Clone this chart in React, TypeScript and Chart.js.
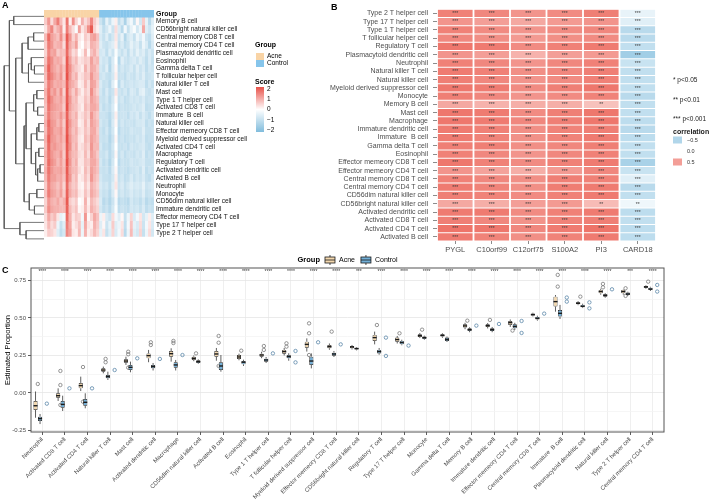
import React, { useEffect, useRef } from 'react';
import { Chart, registerables } from 'chart.js';

Chart.register(...registerables);

const FONT = "'Liberation Sans', Arial, Helvetica, sans-serif";

// ---------------- Panel A: immune score heatmap ----------------
const heatRowNames = [
  'Memory B cell', 'CD56bright natural killer cell', 'Central memory CD8 T cell', 'Central memory CD4 T cell',
  'Plasmacytoid dendritic cell', 'Eosinophil', 'Gamma delta T cell', 'T follicular helper cell',
  'Natural killer T cell', 'Mast cell', 'Type 1 T helper cell', 'Activated CD8 T cell',
  'Immature  B cell', 'Natural killer cell', 'Effector memeory CD8 T cell', 'Myeloid derived suppressor cell',
  'Activated CD4 T cell', 'Macrophage', 'Regulatory T cell', 'Activated dendritic cell',
  'Activated B cell', 'Neutrophil', 'Monocyte', 'CD56dim natural killer cell',
  'Immature dendritic cell', 'Effector memeory CD4 T cell', 'Type 17 T helper cell', 'Type 2 T helper cell',
];
const acneSampleCount = 18;
const controlSampleCount = 18;

// z-scores per sample (18 acne followed by 18 control)
const zMemoryB = [0.6, 1.2, 0.4, 1.0, 1.5, 0.8, 0.3, 1.6, 0.2, 1.3, 0.5, 0.1, 0.9, 0.4, 0.7, 1.4, 0.6, 0.3, -0.8, -1.2, -0.4, -0.9, -0.3, 0.2, -1.0, -0.6, -1.3, -0.5, -0.2, -0.9, 0.1, -0.7, 0.6, -0.4, -1.1, -0.5];
const zCD56bright = [0.3, 1.0, 1.4, 0.6, 0.9, 1.2, 0.2, 1.5, 0.8, 0.4, -0.1, 1.1, 0.3, 0.6, 1.3, 1.9, 0.5, 0.2, -0.5, -1.0, -0.7, -0.3, -0.8, 0.4, -0.6, -1.1, -0.2, -0.9, -0.4, -0.1, -0.7, -0.3, 1.0, -0.5, -0.8, -0.4];
const zCMCD8 = [0.8, 1.7, 1.1, 0.9, 0.7, 1.3, 0.6, 1.9, 1.2, 0.5, 0.9, 0.3, 0.1, 0.6, 0.4, 1.0, 1.1, 0.7, -0.6, -0.9, -0.5, -1.0, -0.7, 0.3, -0.8, -0.4, -1.2, -0.7, -0.5, -0.9, -0.3, -0.6, -0.2, -0.8, -1.0, -0.5];
const zCMCD4 = [0.6, 1.5, 1.2, 0.8, 0.9, 1.0, 0.4, 1.8, 1.0, 0.7, 1.1, 0.2, 0.0, 0.5, 0.3, 0.9, 0.8, 0.6, -0.5, -0.8, -0.9, -0.7, -0.5, 0.2, -0.9, -0.6, -1.0, -0.8, -0.4, -0.7, -0.5, -0.9, -0.3, -0.6, -1.1, -0.6];
const zPDC = [0.5, 1.4, 1.0, 1.1, 0.6, 0.8, 0.7, 1.7, 0.9, 0.4, 0.6, 0.0, 0.2, 0.8, 0.1, 0.7, 0.9, 0.5, -0.7, -0.6, -1.0, -0.5, -0.8, -0.1, -0.7, -0.9, -0.6, -1.0, -0.5, -0.8, -0.4, -0.7, -0.5, -0.9, -0.6, -0.8];
const zEosinophil = [0.7, 1.6, 1.3, 0.9, 1.0, 0.9, 0.5, 1.9, 1.1, 0.6, 0.8, 0.3, 0.4, 0.6, 0.5, 1.1, 0.7, 0.8, -0.6, -0.8, -0.7, -1.1, -0.6, 0.0, -1.2, -0.5, -0.8, -0.9, -0.7, -0.6, -0.8, -0.5, -0.7, -1.0, -0.6, -0.9];
const zGammaDelta = [0.9, 1.8, 1.2, 1.0, 0.8, 1.1, 0.7, 1.9, 1.3, 0.8, 0.6, 0.4, 0.2, 0.9, 0.5, 1.0, 0.9, 0.6, -0.7, -0.9, -0.5, -1.2, -0.6, 0.1, -1.0, -0.7, -0.9, -0.8, -0.6, -0.9, -0.5, -0.8, -0.6, -1.0, -0.7, -0.8];
const zTfh = [0.8, 1.7, 1.4, 1.1, 0.9, 1.2, 0.6, 2.0, 1.2, 0.7, 0.9, 0.3, 0.4, 0.7, 0.6, 1.2, 0.8, 0.7, -0.8, -0.7, -0.9, -1.0, -0.7, 0.2, -0.9, -0.8, -1.0, -0.7, -0.8, -0.9, -0.6, -0.8, -0.5, -0.9, -0.8, -0.7];
const zNKT = [0.7, 1.5, 1.2, 0.9, 1.0, 1.0, 0.8, 1.8, 1.1, 0.9, 0.7, 0.2, 0.3, 0.8, 0.4, 1.1, 1.0, 0.6, -0.6, -0.9, -0.8, -1.1, -0.5, 0.0, -1.1, -0.6, -0.9, -0.8, -0.7, -0.8, -0.7, -0.6, -0.6, -1.0, -0.7, -0.9];
const zMast = [0.9, 1.6, 1.0, 1.2, 0.8, 1.3, 0.5, 1.9, 1.0, 0.6, 1.0, 0.5, 0.2, 0.6, 0.4, 1.3, 0.8, 0.5, -0.7, -1.0, -0.6, -1.0, -0.8, 0.3, -0.8, -0.9, -0.7, -1.0, -0.6, -0.7, -0.9, -0.5, -0.4, -0.8, -0.9, -0.7];
const zTh1 = [0.8, 1.7, 1.3, 1.0, 0.9, 1.1, 0.7, 1.9, 1.2, 0.7, 0.8, 0.3, 0.3, 0.7, 0.5, 1.1, 0.9, 0.7, -0.8, -0.9, -0.7, -1.1, -0.7, 0.1, -0.9, -0.7, -1.0, -0.9, -0.7, -0.8, -0.7, -0.8, -0.6, -0.9, -0.8, -0.8];
const zActCD8 = [0.7, 1.6, 1.2, 1.1, 1.0, 1.0, 0.6, 2.0, 1.1, 0.8, 0.7, 0.4, 0.2, 0.8, 0.6, 1.0, 1.0, 0.8, -0.7, -1.0, -0.8, -1.0, -0.6, 0.0, -1.0, -0.8, -0.9, -0.9, -0.8, -0.7, -0.8, -0.7, -0.5, -1.0, -0.9, -0.8];
const zImmatureB = [0.8, 1.5, 1.1, 1.0, 0.9, 1.2, 0.8, 1.8, 1.0, 0.7, 0.9, 0.3, 0.4, 0.7, 0.5, 1.2, 0.8, 0.6, -0.8, -0.8, -0.9, -1.1, -0.7, 0.2, -0.9, -0.8, -0.8, -1.0, -0.7, -0.8, -0.6, -0.9, -0.6, -0.8, -1.0, -0.7];
const zNK = [0.9, 1.7, 1.2, 1.1, 0.8, 1.1, 0.6, 1.9, 1.2, 0.8, 0.8, 0.2, 0.3, 0.8, 0.4, 1.1, 0.9, 0.7, -0.7, -0.9, -0.8, -1.2, -0.6, 0.1, -1.0, -0.7, -0.9, -0.8, -0.8, -0.9, -0.7, -0.7, -0.6, -1.0, -0.8, -0.9];
const zEMCD8 = [0.8, 1.6, 1.3, 1.0, 1.0, 1.2, 0.7, 1.9, 1.1, 0.7, 0.9, 0.4, 0.3, 0.7, 0.5, 1.0, 1.0, 0.6, -0.8, -1.0, -0.7, -1.1, -0.7, 0.0, -1.1, -0.8, -0.9, -0.9, -0.7, -0.8, -0.8, -0.8, -0.5, -0.9, -0.9, -0.8];
const zMDSC = [0.9, 1.8, 1.2, 1.1, 0.9, 1.1, 0.8, 2.0, 1.2, 0.8, 0.8, 0.3, 0.2, 0.8, 0.6, 1.1, 0.9, 0.7, -0.8, -0.9, -0.8, -1.2, -0.8, 0.1, -1.0, -0.8, -1.0, -0.9, -0.8, -0.9, -0.7, -0.8, -0.6, -1.0, -0.9, -0.9];
const zActCD4 = [0.8, 1.7, 1.1, 1.2, 1.0, 1.0, 0.7, 1.9, 1.3, 0.7, 0.9, 0.3, 0.4, 0.7, 0.5, 1.2, 0.8, 0.8, -0.7, -1.0, -0.9, -1.1, -0.7, 0.0, -0.9, -0.9, -0.8, -1.0, -0.7, -0.8, -0.8, -0.7, -0.6, -0.9, -1.0, -0.8];
const zMacrophage = [0.9, 1.6, 1.2, 1.0, 0.9, 1.2, 0.6, 1.9, 1.1, 0.8, 0.8, 0.4, 0.3, 0.8, 0.4, 1.1, 0.9, 0.6, -0.8, -0.9, -0.7, -1.1, -0.8, 0.1, -1.0, -0.7, -1.0, -0.8, -0.8, -0.9, -0.7, -0.8, -0.5, -1.0, -0.8, -0.9];
const zTreg = [0.8, 1.7, 1.3, 1.1, 0.8, 1.1, 0.7, 2.0, 1.2, 0.7, 0.9, 0.3, 0.3, 0.7, 0.6, 1.0, 1.0, 0.7, -0.7, -1.0, -0.8, -1.2, -0.7, 0.0, -1.1, -0.8, -0.9, -0.9, -0.7, -0.8, -0.8, -0.7, -0.6, -0.9, -0.9, -0.8];
const zActDC = [0.9, 1.6, 1.2, 1.0, 1.0, 1.1, 0.8, 1.9, 1.1, 0.8, 0.8, 0.4, 0.2, 0.8, 0.5, 1.1, 0.9, 0.7, -0.8, -0.9, -0.8, -1.1, -0.6, 0.1, -1.0, -0.8, -0.9, -1.0, -0.8, -0.8, -0.7, -0.9, -0.5, -1.0, -0.8, -0.9];
const zActB = [0.8, 1.5, 1.1, 1.1, 0.9, 1.0, 0.7, 1.8, 1.2, 0.6, 0.8, 0.2, 0.3, 0.7, 0.4, 1.2, 0.8, 0.6, -0.7, -0.9, -0.9, -1.0, -0.7, 0.2, -0.9, -0.7, -1.0, -0.9, -0.6, -0.9, -0.7, -0.8, -0.6, -0.9, -1.0, -0.7];
const zNeutrophil = [0.6, 1.4, 1.0, 0.9, 0.7, 1.0, 0.5, 1.7, 0.9, 0.6, 0.7, 0.2, 0.1, 0.6, 0.3, 0.9, 0.7, 0.5, -0.6, -0.8, -0.7, -1.0, -0.5, 0.3, -0.8, -0.6, -0.9, -0.7, -0.5, -0.7, -0.6, -0.7, -0.4, -0.8, -0.7, -0.6];
const zMonocyte = [0.7, 1.5, 1.1, 1.0, 0.8, 1.1, 0.6, 1.8, 1.0, 0.7, 0.8, 0.3, 0.2, 0.7, 0.4, 1.0, 0.8, 0.6, -0.7, -0.9, -0.8, -1.1, -0.6, 0.1, -0.9, -0.7, -0.9, -0.8, -0.6, -0.8, -0.7, -0.8, -0.5, -0.9, -0.8, -0.7];
const zCD56dim = [0.5, 1.2, 0.9, 0.8, 1.0, 0.7, 0.9, 1.9, 0.6, 0.4, 0.6, 0.0, 0.1, 0.9, 0.2, 0.8, 0.6, 0.4, -0.6, -1.1, -0.9, -1.2, -0.8, -0.2, -1.1, -0.9, -1.0, -1.1, -0.7, -0.9, -0.8, -1.0, -0.7, -1.1, -0.9, -1.0];
const zImmatureDC = [0.6, 1.3, 1.0, 0.9, 0.9, 0.8, 0.8, 1.8, 0.8, 0.5, 0.7, 0.1, 0.2, 0.8, 0.3, 0.9, 0.7, 0.5, -0.7, -1.0, -0.8, -1.1, -0.7, -0.1, -1.0, -0.8, -0.9, -1.0, -0.7, -0.8, -0.7, -0.9, -0.6, -1.0, -0.8, -0.9];
const zEMCD4 = [0.4, 1.0, 0.6, 0.8, 0.3, -0.4, -0.2, 1.7, 0.9, 0.3, 0.6, 0.5, -0.2, 1.2, 0.1, 0.5, 1.0, 0.7, -0.3, 0.2, -0.6, -0.8, 0.4, -0.2, -0.5, 0.1, -0.9, -0.3, 0.5, -0.6, -0.2, 0.3, -0.7, -0.4, 0.2, -0.5];
const zTh17 = [0.3, 0.8, 0.4, 0.6, -0.3, -0.9, -0.5, 1.5, 1.0, 0.2, 0.4, 0.7, -0.4, 1.0, 0.3, 0.2, 0.9, 0.6, -0.5, 0.1, -0.8, -0.4, 0.6, -0.5, -0.3, 0.3, -1.0, -0.2, 0.7, -0.4, -0.6, 0.4, -0.8, -0.2, 0.3, -0.6];
const zTh2 = [0.2, 0.6, 0.5, 0.3, -0.5, -1.0, -0.7, 1.4, 1.1, 0.3, 0.2, 0.8, -0.3, 0.9, 0.2, 0.4, 0.8, 0.5, -0.4, 0.3, -0.9, -0.5, 0.5, -0.6, -0.2, 0.4, -1.1, -0.3, 0.8, -0.5, -0.7, 0.5, -0.9, -0.3, 0.4, -0.7];

const heatMatrix = [
  zMemoryB, zCD56bright, zCMCD8, zCMCD4, zPDC, zEosinophil, zGammaDelta, zTfh, zNKT, zMast,
  zTh1, zActCD8, zImmatureB, zNK, zEMCD8, zMDSC, zActCD4, zMacrophage, zTreg, zActDC,
  zActB, zNeutrophil, zMonocyte, zCD56dim, zImmatureDC, zEMCD4, zTh17, zTh2,
];

// row clustering: [left, right, height]; ids 0-27 are rows, id 100+k is merge k
const rowMerges: [number, number, number][] = [
  [2, 3, 2.6], [100, 4, 4.0], [6, 7, 2.4], [5, 102, 3.2], [103, 8, 3.9], [101, 104, 5.5],
  [9, 10, 1.8], [11, 12, 1.6], [106, 107, 2.6], [13, 14, 1.3], [109, 15, 1.8], [16, 17, 1.3],
  [18, 19, 1.0], [112, 20, 1.6], [111, 113, 2.1], [110, 114, 3.2], [108, 115, 4.5],
  [21, 22, 1.8], [23, 24, 2.4], [117, 118, 3.7], [116, 119, 5.0], [105, 120, 7.1],
  [0, 1, 7.6], [122, 121, 8.7], [26, 27, 4.5], [25, 124, 6.05], [123, 125, 10],
];

// ---------------- Panel B: correlation with marker genes ----------------
const corrRowNames = [
  'Type 2 T helper cell', 'Type 17 T helper cell', 'Type 1 T helper cell', 'T follicular helper cell',
  'Regulatory T cell', 'Plasmacytoid dendritic cell', 'Neutrophil', 'Natural killer T cell',
  'Natural killer cell', 'Myeloid derived suppressor cell', 'Monocyte', 'Memory B cell',
  'Mast cell', 'Macrophage', 'Immature dendritic cell', 'Immature  B cell',
  'Gamma delta T cell', 'Eosinophil', 'Effector memeory CD8 T cell', 'Effector memeory CD4 T cell',
  'Central memory CD8 T cell', 'Central memory CD4 T cell', 'CD56dim natural killer cell', 'CD56bright natural killer cell',
  'Activated dendritic cell', 'Activated CD8 T cell', 'Activated CD4 T cell', 'Activated B cell',
];
const corrGenes = ['PYGL', 'C10orf99', 'C12orf75', 'S100A2', 'PI3', 'CARD18'];

const corrPYGL = [0.65, 0.55, 0.65, 0.62, 0.70, 0.55, 0.65, 0.68, 0.66, 0.70, 0.66, 0.45, 0.70, 0.70, 0.68, 0.68, 0.66, 0.65, 0.70, 0.55, 0.65, 0.68, 0.66, 0.45, 0.68, 0.66, 0.72, 0.68];
const corrC10orf99 = [0.62, 0.50, 0.60, 0.58, 0.68, 0.50, 0.62, 0.65, 0.62, 0.68, 0.62, 0.40, 0.68, 0.68, 0.65, 0.64, 0.66, 0.62, 0.65, 0.48, 0.62, 0.64, 0.64, 0.42, 0.68, 0.62, 0.70, 0.64];
const corrC12orf75 = [0.55, 0.45, 0.55, 0.52, 0.60, 0.40, 0.55, 0.58, 0.55, 0.60, 0.55, 0.42, 0.60, 0.62, 0.58, 0.57, 0.58, 0.55, 0.60, 0.42, 0.58, 0.58, 0.60, 0.50, 0.60, 0.56, 0.62, 0.58];
const corrS100A2 = [0.60, 0.52, 0.60, 0.58, 0.65, 0.50, 0.62, 0.62, 0.60, 0.66, 0.60, 0.42, 0.66, 0.66, 0.64, 0.64, 0.62, 0.62, 0.65, 0.52, 0.66, 0.67, 0.65, 0.52, 0.65, 0.64, 0.68, 0.64];
const corrPI3 = [0.66, 0.55, 0.62, 0.60, 0.68, 0.52, 0.65, 0.66, 0.65, 0.70, 0.64, 0.32, 0.70, 0.70, 0.66, 0.68, 0.66, 0.65, 0.68, 0.62, 0.65, 0.68, 0.68, 0.35, 0.68, 0.66, 0.72, 0.68];
const corrCARD18 = [-0.15, -0.20, -0.45, -0.45, -0.40, -0.60, -0.35, -0.40, -0.40, -0.40, -0.45, -0.40, -0.40, -0.42, -0.45, -0.42, -0.40, -0.40, -0.55, -0.35, -0.20, -0.45, -0.40, -0.10, -0.42, -0.40, -0.42, -0.42];

const S3 = '***';
const S2 = '**';
const sigPYGL = [S3, S3, S3, S3, S3, S3, S3, S3, S3, S3, S3, S3, S3, S3, S3, S3, S3, S3, S3, S3, S3, S3, S3, S3, S3, S3, S3, S3];
const sigC10orf99 = [S3, S3, S3, S3, S3, S3, S3, S3, S3, S3, S3, S3, S3, S3, S3, S3, S3, S3, S3, S3, S3, S3, S3, S3, S3, S3, S3, S3];
const sigC12orf75 = [S3, S3, S3, S3, S3, S3, S3, S3, S3, S3, S3, S3, S3, S3, S3, S3, S3, S3, S3, S3, S3, S3, S3, S3, S3, S3, S3, S3];
const sigS100A2 = [S3, S3, S3, S3, S3, S3, S3, S3, S3, S3, S3, S3, S3, S3, S3, S3, S3, S3, S3, S3, S3, S3, S3, S3, S3, S3, S3, S3];
const sigPI3 = [S3, S3, S3, S3, S3, S3, S3, S3, S3, S3, S3, S2, S3, S3, S3, S3, S3, S3, S3, S3, S3, S3, S3, S2, S3, S3, S3, S3];
const sigCARD18 = [S3, S3, S3, S3, S3, S3, S3, S3, S3, S3, S3, S3, S3, S3, S3, S3, S3, S3, S3, S3, S3, S3, S3, S2, S3, S3, S3, S3];

const corrByGene = [corrPYGL, corrC10orf99, corrC12orf75, corrS100A2, corrPI3, corrCARD18];
const sigByGene = [sigPYGL, sigC10orf99, sigC12orf75, sigS100A2, sigPI3, sigCARD18];

// ---------------- Panel C: estimated proportions by group ----------------
const cellTypes = [
  'Neutrophil', 'Activated CD8 T cell', 'Activated CD4 T cell', 'Natural killer T cell', 'Mast cell',
  'Activated dendritic cell', 'Macrophage', 'CD56dim natural killer cell', 'Activated B cell', 'Eosinophil',
  'Type 1 T helper cell', 'T follicular helper cell', 'Myeloid derived suppressor cell', 'Effector memeory CD8 T cell',
  'CD56bright natural killer cell', 'Regulatory T cell', 'Type 17 T helper cell', 'Monocyte', 'Gamma delta T cell',
  'Memory B cell', 'Immature dendritic cell', 'Effector memeory CD4 T cell', 'Central memory CD8 T cell',
  'Immature  B cell', 'Plasmacytoid dendritic cell', 'Natural killer cell', 'Type 2 T helper cell', 'Central memory CD4 T cell',
];

const acneLow = [-0.165, -0.053, 0.013, 0.131, 0.187, 0.205, 0.209, 0.212, 0.215, 0.218, 0.232, 0.25, 0.276, 0.288, 0.29, 0.324, 0.33, 0.366, 0.368, 0.425, 0.43, 0.44, 0.51, 0.542, 0.585, 0.655, 0.655, 0.695];
const acneQ1 = [-0.113, -0.031, 0.031, 0.142, 0.202, 0.231, 0.242, 0.22, 0.242, 0.227, 0.242, 0.262, 0.302, 0.298, 0.298, 0.347, 0.342, 0.373, 0.376, 0.436, 0.44, 0.453, 0.516, 0.576, 0.591, 0.664, 0.664, 0.702];
const acneMedian = [-0.085, -0.018, 0.049, 0.153, 0.213, 0.249, 0.262, 0.231, 0.26, 0.24, 0.253, 0.276, 0.324, 0.309, 0.307, 0.369, 0.356, 0.382, 0.384, 0.447, 0.449, 0.469, 0.522, 0.609, 0.598, 0.676, 0.676, 0.707];
const acneQ3 = [-0.053, -0.002, 0.067, 0.165, 0.225, 0.264, 0.28, 0.242, 0.28, 0.253, 0.262, 0.287, 0.342, 0.32, 0.313, 0.387, 0.369, 0.391, 0.391, 0.458, 0.458, 0.48, 0.529, 0.642, 0.604, 0.687, 0.687, 0.713];
const acneHigh = [0.01, 0.031, 0.109, 0.176, 0.242, 0.287, 0.298, 0.25, 0.3, 0.262, 0.275, 0.3, 0.364, 0.33, 0.32, 0.409, 0.38, 0.4, 0.398, 0.468, 0.466, 0.49, 0.535, 0.653, 0.612, 0.695, 0.69, 0.718];
const acneOutliers = [
  [0.06], [0.147, 0.053, -0.08], [0.173, -0.058], [0.227, 0.205], [0.275, 0.258, 0.169],
  [0.338, 0.32], [0.347, 0.333], [0.264], [0.38, 0.335, 0.18], [0.282],
  [0.313, 0.287], [0.331, 0.309], [0.464, 0.398, 0.253], [0.409], [],
  [0.453], [0.398], [0.422], [], [0.482],
  [0.487], [0.416], [], [0.787, 0.709], [0.642],
  [0.727, 0.704], [0.647, 0.698], [0.742],
];

const controlLow = [-0.207, -0.12, -0.102, 0.087, 0.138, 0.15, 0.15, 0.195, 0.142, 0.18, 0.2, 0.215, 0.164, 0.24, 0.284, 0.255, 0.318, 0.355, 0.34, 0.405, 0.405, 0.42, 0.482, 0.493, 0.566, 0.635, 0.647, 0.68];
const controlQ1 = [-0.187, -0.098, -0.085, 0.098, 0.153, 0.165, 0.169, 0.2, 0.153, 0.191, 0.209, 0.231, 0.187, 0.249, 0.289, 0.264, 0.324, 0.36, 0.347, 0.413, 0.413, 0.431, 0.489, 0.509, 0.571, 0.642, 0.653, 0.687];
const controlMedian = [-0.171, -0.076, -0.062, 0.109, 0.171, 0.176, 0.187, 0.209, 0.18, 0.205, 0.22, 0.242, 0.213, 0.26, 0.296, 0.276, 0.336, 0.369, 0.358, 0.422, 0.422, 0.444, 0.498, 0.531, 0.578, 0.651, 0.66, 0.693];
const controlQ3 = [-0.158, -0.053, -0.04, 0.12, 0.187, 0.187, 0.205, 0.218, 0.205, 0.213, 0.229, 0.253, 0.242, 0.269, 0.302, 0.287, 0.347, 0.376, 0.369, 0.431, 0.431, 0.458, 0.507, 0.553, 0.587, 0.658, 0.669, 0.702];
const controlHigh = [-0.14, -0.018, -0.002, 0.142, 0.209, 0.2, 0.22, 0.224, 0.253, 0.222, 0.24, 0.265, 0.264, 0.28, 0.306, 0.3, 0.355, 0.382, 0.376, 0.438, 0.44, 0.468, 0.515, 0.587, 0.595, 0.665, 0.675, 0.708];
const controlOutliers = [
  [-0.071], [0.031], [0.031], [0.153], [0.231],
  [0.227], [0.253], [], [], [],
  [0.264], [0.28, 0.204], [0.338], [0.324], [],
  [0.369, 0.247], [0.316], [], [], [0.449],
  [0.46], [0.48, 0.4], [0.529], [0.636, 0.609], [0.604, 0.564],
  [0.691], [], [0.72, 0.676],
];

const groupTests = [
  '****', '****', '****', '****', '****', '****', '****', '****', '****', '****',
  '****', '****', '****', '****', '***', '****', '****', '****', '****', '****',
  '****', '****', '****', '****', '****', '****', '***', '****',
];

// ---------------- colours ----------------
const ACNE_ANNOT = '#F9D4A6';
const CONTROL_ANNOT = '#86C5EB';
const ACNE_BOX = '#F3D8AE';
const CONTROL_BOX = '#72AFD7';
const WHITE = [255, 255, 255];
const SCORE_HIGH = [232, 82, 74];
const SCORE_LOW = [128, 188, 220];
const CORR_POS = [236, 100, 88];
const CORR_NEG = [130, 190, 222];

function mix(a: number[], b: number[], t: number) {
  const k = Math.max(0, Math.min(1, t));
  const c = a.map((v, i) => Math.round(v + (b[i] - v) * k));
  return `rgb(${c[0]},${c[1]},${c[2]})`;
}
const scoreColor = (v: number) => (v >= 0 ? mix(WHITE, SCORE_HIGH, v / 2) : mix(WHITE, SCORE_LOW, -v / 2));
const corrColor = (v: number) => (v >= 0 ? mix(WHITE, CORR_POS, v / 0.8) : mix(WHITE, CORR_NEG, -v / 0.8));

function dendrogramSegments() {
  const nodes: Record<number, { y: number; h: number }> = {};
  heatRowNames.forEach((_, i) => { nodes[i] = { y: i + 1, h: 0 }; });
  const segs: { x: number; y: number }[][] = [];
  rowMerges.forEach(([a, b, h], k) => {
    const A = nodes[a];
    const B = nodes[b];
    segs.push([{ x: A.h, y: A.y }, { x: h, y: A.y }, { x: h, y: B.y }, { x: B.h, y: B.y }]);
    nodes[100 + k] = { y: (A.y + B.y) / 2, h };
  });
  return segs;
}

const noPlugins = { legend: { display: false }, tooltip: { enabled: false } };

function makeDendrogram(canvas: HTMLCanvasElement) {
  return new Chart(canvas, {
    type: 'scatter',
    data: {
      datasets: dendrogramSegments().map((pts) => ({
        data: pts, showLine: true, pointRadius: 0, borderColor: '#555555', borderWidth: 0.8,
        tension: 0, fill: false, borderJoinStyle: 'miter', borderCapStyle: 'butt',
      })),
    } as any,
    options: {
      animation: false, responsive: false, events: [], layout: { padding: 0 },
      plugins: noPlugins as any,
      scales: {
        x: { type: 'linear', min: 0, max: 10.3, reverse: true, display: false },
        y: { type: 'linear', min: -0.5, max: 28.5, reverse: true, display: false },
      },
    },
  });
}

const heatLegendPlugin = {
  id: 'heatLegend',
  afterDraw(chart: any) {
    const { ctx, chartArea } = chart;
    const x = chartArea.right + 101;
    ctx.save();
    ctx.textBaseline = 'middle';
    ctx.textAlign = 'left';
    ctx.fillStyle = '#000';
    ctx.font = `bold 7px ${FONT}`;
    ctx.fillText('Group', x, 41);
    ctx.fillStyle = ACNE_ANNOT;
    ctx.fillRect(x + 1, 49, 8, 7);
    ctx.fillStyle = CONTROL_ANNOT;
    ctx.fillRect(x + 1, 56, 8, 7);
    ctx.fillStyle = '#000';
    ctx.font = `6.5px ${FONT}`;
    ctx.fillText('Acne', x + 12, 52.5);
    ctx.fillText('Control', x + 12, 59.5);
    ctx.font = `bold 7px ${FONT}`;
    ctx.fillText('Score', x, 78);
    const top = 83;
    const bottom = 128;
    const grad = ctx.createLinearGradient(0, top, 0, bottom);
    grad.addColorStop(0, scoreColor(2));
    grad.addColorStop(0.5, scoreColor(0));
    grad.addColorStop(1, scoreColor(-2));
    ctx.fillStyle = grad;
    ctx.fillRect(x + 1, top, 8, bottom - top);
    ctx.fillStyle = '#000';
    ctx.font = `6.5px ${FONT}`;
    [2, 1, 0, -1, -2].forEach((v) => {
      ctx.fillText(v < 0 ? `\u2212${-v}` : String(v), x + 12, 105.5 - v * 10.3);
    });
    ctx.restore();
  },
};

function makeHeatmap(canvas: HTMLCanvasElement) {
  const labels = ['Group', ...heatRowNames];
  const total = acneSampleCount + controlSampleCount;
  const cols = Array.from({ length: total }, (_, c) => c);
  return new Chart(canvas, {
    type: 'bar',
    data: {
      labels,
      datasets: cols.map((c) => ({
        data: labels.map(() => [c - 0.55, c + 0.55]),
        backgroundColor: [c < acneSampleCount ? ACNE_ANNOT : CONTROL_ANNOT, ...heatMatrix.map((row) => scoreColor(row[c]))],
        borderWidth: 0, grouped: false, barPercentage: 1.06, categoryPercentage: 1,
      })),
    } as any,
    options: {
      indexAxis: 'y', animation: false, responsive: false, events: [], layout: { padding: 0 },
      plugins: noPlugins as any,
      scales: {
        x: { type: 'linear', min: -0.5, max: total - 0.5, display: false, offset: false },
        y: {
          type: 'category', position: 'right',
          grid: { display: false, drawTicks: false, offset: false },
          border: { display: false },
          ticks: {
            autoSkip: false, padding: 2, color: '#111',
            font: (ctx: any) => ({ family: FONT, size: ctx.index === 0 ? 7 : 6.5, weight: ctx.index === 0 ? 'bold' : 'normal' }),
          },
          afterFit: (s: any) => { s.width = 136; },
        } as any,
      },
    },
    plugins: [heatLegendPlugin],
  });
}

const corrDecorPlugin = {
  id: 'corrDecor',
  afterDatasetsDraw(chart: any) {
    const { ctx } = chart;
    ctx.save();
    ctx.fillStyle = '#3a3a3a';
    ctx.font = `5px ${FONT}`;
    ctx.textAlign = 'center';
    ctx.textBaseline = 'middle';
    corrGenes.forEach((_, g) => {
      chart.getDatasetMeta(g).data.forEach((el: any, i: number) => {
        const p = el.getProps(['x', 'y', 'base'], true);
        ctx.fillText(sigByGene[g][i], (p.x + p.base) / 2, p.y + 0.5);
      });
    });
    ctx.restore();
  },
  afterDraw(chart: any) {
    const { ctx, chartArea } = chart;
    const x = chartArea.right + 17;
    ctx.save();
    ctx.textBaseline = 'middle';
    ctx.textAlign = 'left';
    ctx.fillStyle = '#1a1a1a';
    ctx.font = `6.5px ${FONT}`;
    ctx.fillText('* p<0.05', x, 80);
    ctx.fillText('** p<0.01', x, 100);
    ctx.fillText('*** p<0.001', x, 119);
    ctx.font = `bold 7px ${FONT}`;
    ctx.fillText('correlation', x, 132);
    ctx.font = `5.5px ${FONT}`;
    [[-0.5, 140], [0, 151], [0.5, 162]].forEach(([v, yc]) => {
      ctx.fillStyle = corrColor(v);
      ctx.fillRect(x, yc - 3.5, 9, 7);
      ctx.fillStyle = '#333';
      ctx.fillText(v < 0 ? '\u22120.5' : v.toFixed(1), x + 14, yc);
    });
    ctx.restore();
  },
};

function makeCorrelation(canvas: HTMLCanvasElement) {
  return new Chart(canvas, {
    type: 'bar',
    data: {
      labels: corrRowNames,
      datasets: corrGenes.map((gene, g) => ({
        label: gene,
        data: corrRowNames.map(() => [g - 0.475, g + 0.475]),
        backgroundColor: corrByGene[g].map(corrColor),
        borderWidth: 0, grouped: false, barPercentage: 0.88, categoryPercentage: 1,
      })),
    } as any,
    options: {
      indexAxis: 'y', animation: false, responsive: false, events: [],
      layout: { padding: { top: 2, right: 53, left: 0, bottom: 0 } },
      plugins: noPlugins as any,
      scales: {
        y: {
          type: 'category',
          grid: { drawOnChartArea: false, drawTicks: true, tickLength: 4, tickColor: '#8c8c8c', offset: false },
          border: { display: false },
          ticks: { autoSkip: false, padding: 5, color: '#4D4D4D', font: { family: FONT, size: 7 } },
          afterFit: (s: any) => { s.width = 137; },
        } as any,
        x: {
          type: 'linear', min: -0.5, max: corrGenes.length - 0.5, offset: false,
          afterBuildTicks: (s: any) => { s.ticks = corrGenes.map((_, i) => ({ value: i })); },
          ticks: { callback: (_v: any, i: number) => corrGenes[i], color: '#4D4D4D', font: { family: FONT, size: 7.5 }, padding: 1, autoSkip: false },
          grid: { drawOnChartArea: false, tickLength: 3, tickColor: '#8c8c8c' },
          border: { display: false },
          afterFit: (s: any) => { s.height = 11; },
        } as any,
      },
    },
    plugins: [corrDecorPlugin],
  });
}

function drawBoxGlyph(ctx: CanvasRenderingContext2D, x: number, yc: number, fill: string) {
  ctx.fillStyle = fill;
  ctx.fillRect(x, yc - 3, 10, 6);
  ctx.strokeStyle = '#1a1a1a';
  ctx.lineWidth = 0.8;
  ctx.strokeRect(x, yc - 3, 10, 6);
  ctx.beginPath();
  ctx.moveTo(x, yc);
  ctx.lineTo(x + 10, yc);
  ctx.moveTo(x + 5, yc - 3);
  ctx.lineTo(x + 5, yc - 5);
  ctx.moveTo(x + 5, yc + 3);
  ctx.lineTo(x + 5, yc + 5);
  ctx.stroke();
}

const boxDetailPlugin = {
  id: 'boxDetail',
  afterDatasetsDraw(chart: any) {
    const { ctx } = chart;
    const y = chart.scales.y;
    const groups = [
      { ds: 0, lo: acneLow, q1: acneQ1, med: acneMedian, q3: acneQ3, hi: acneHigh },
      { ds: 1, lo: controlLow, q1: controlQ1, med: controlMedian, q3: controlQ3, hi: controlHigh },
    ];
    ctx.save();
    ctx.strokeStyle = '#1a1a1a';
    groups.forEach((g) => {
      chart.getDatasetMeta(g.ds).data.forEach((el: any, i: number) => {
        const { x, width } = el.getProps(['x', 'width'], true);
        ctx.lineWidth = 0.7;
        ctx.beginPath();
        ctx.moveTo(x, y.getPixelForValue(g.q3[i]));
        ctx.lineTo(x, y.getPixelForValue(g.hi[i]));
        ctx.moveTo(x, y.getPixelForValue(g.q1[i]));
        ctx.lineTo(x, y.getPixelForValue(g.lo[i]));
        ctx.stroke();
        const ym = y.getPixelForValue(g.med[i]);
        ctx.lineWidth = 1.4;
        ctx.beginPath();
        ctx.moveTo(x - width / 2, ym);
        ctx.lineTo(x + width / 2, ym);
        ctx.stroke();
      });
    });
    ctx.restore();
  },
  afterDraw(chart: any) {
    const { ctx, chartArea } = chart;
    const xs = chart.scales.x;
    ctx.save();
    ctx.strokeStyle = '#555';
    ctx.lineWidth = 1;
    ctx.strokeRect(chartArea.left, chartArea.top, chartArea.right - chartArea.left, chartArea.bottom - chartArea.top);

    ctx.fillStyle = '#333';
    ctx.font = `5px ${FONT}`;
    ctx.textAlign = 'center';
    ctx.textBaseline = 'middle';
    groupTests.forEach((s, i) => ctx.fillText(s, xs.getPixelForValue(i), chartArea.top + 3.5));

    // group legend centred above the panel
    const yc = 10;
    ctx.textAlign = 'left';
    ctx.font = `bold 7.5px ${FONT}`;
    const wGroup = ctx.measureText('Group').width;
    ctx.font = `7px ${FONT}`;
    const wAcne = ctx.measureText('Acne').width;
    const wControl = ctx.measureText('Control').width;
    const total = wGroup + 5 + 10 + 4 + wAcne + 6 + 10 + 4 + wControl;
    let x = (chartArea.left + chartArea.right) / 2 - total / 2;
    ctx.fillStyle = '#000';
    ctx.font = `bold 7.5px ${FONT}`;
    ctx.fillText('Group', x, yc);
    x += wGroup + 5;
    drawBoxGlyph(ctx, x, yc, ACNE_BOX);
    x += 14;
    ctx.fillStyle = '#000';
    ctx.font = `7px ${FONT}`;
    ctx.fillText('Acne', x, yc);
    x += wAcne + 6;
    drawBoxGlyph(ctx, x, yc, CONTROL_BOX);
    x += 14;
    ctx.fillStyle = '#000';
    ctx.font = `7px ${FONT}`;
    ctx.fillText('Control', x, yc);
    ctx.restore();
  },
};

const yTicksC = [-0.25, -0.125, 0, 0.125, 0.25, 0.375, 0.5, 0.625, 0.75];
const isMajor = (v: number) => Math.abs(v * 4 - Math.round(v * 4)) < 1e-6;

function makeBoxes(canvas: HTMLCanvasElement) {
  const acnePts = acneOutliers.flatMap((arr, i) => arr.map((v) => ({ x: i - 0.2, y: v })));
  const controlPts = controlOutliers.flatMap((arr, i) => arr.map((v) => ({ x: i + 0.2, y: v })));
  return new Chart(canvas, {
    type: 'bar',
    data: {
      labels: cellTypes,
      datasets: [
        {
          label: 'Acne', data: acneQ1.map((q, i) => [q, acneQ3[i]]), backgroundColor: ACNE_BOX,
          borderColor: '#1a1a1a', borderWidth: 0.7, borderSkipped: false, categoryPercentage: 0.8, barPercentage: 0.9,
        },
        {
          label: 'Control', data: controlQ1.map((q, i) => [q, controlQ3[i]]), backgroundColor: CONTROL_BOX,
          borderColor: '#1a1a1a', borderWidth: 0.7, borderSkipped: false, categoryPercentage: 0.8, barPercentage: 0.9,
        },
        {
          type: 'scatter', label: 'Acne outliers', xAxisID: 'xo', data: acnePts,
          pointRadius: 1.7, borderColor: '#7a7a7a', backgroundColor: 'rgba(0,0,0,0)', borderWidth: 0.8,
        },
        {
          type: 'scatter', label: 'Control outliers', xAxisID: 'xo', data: controlPts,
          pointRadius: 1.7, borderColor: '#5a87a8', backgroundColor: 'rgba(0,0,0,0)', borderWidth: 0.8,
        },
      ],
    } as any,
    options: {
      animation: false, responsive: false, events: [],
      layout: { padding: { top: 18, right: 45, left: 0, bottom: 0 } },
      plugins: noPlugins as any,
      scales: {
        x: {
          type: 'category', offset: true,
          grid: { offset: false, color: '#EBEBEB', lineWidth: 0.8, tickColor: '#333', tickLength: 3 },
          border: { display: false },
          ticks: { autoSkip: false, minRotation: 45, maxRotation: 45, color: '#4D4D4D', font: { family: FONT, size: 6 }, padding: 1 },
          afterFit: (s: any) => { s.height = 67; },
        } as any,
        xo: { type: 'linear', display: false, offset: false, min: -0.5, max: cellTypes.length - 0.5 } as any,
        y: {
          type: 'linear', min: -0.26, max: 0.833,
          afterBuildTicks: (s: any) => { s.ticks = yTicksC.map((v) => ({ value: v })); },
          ticks: {
            callback: (v: any) => (isMajor(v) ? Number(v).toFixed(2) : ''),
            color: '#4D4D4D', font: { family: FONT, size: 6 }, padding: 2,
          },
          grid: {
            color: (c: any) => (isMajor(c.tick.value) ? '#E6E6E6' : '#F4F4F4'),
            tickColor: (c: any) => (isMajor(c.tick.value) ? '#333' : 'rgba(0,0,0,0)'),
            lineWidth: 0.8, tickLength: 3,
          },
          border: { display: false },
          title: { display: true, text: 'Estimated Proportion', color: '#000', font: { family: FONT, size: 7.5 }, padding: { top: 3, bottom: 0 } },
          afterFit: (s: any) => { s.width = 31; },
        } as any,
      },
    },
    plugins: [boxDetailPlugin],
  });
}

const panelLabel = (left: number, top: number): React.CSSProperties => ({
  position: 'absolute', left, top, font: `bold 9px ${FONT}`, lineHeight: '9px', color: '#000',
});

export default function App() {
  const dendroRef = useRef<HTMLCanvasElement>(null);
  const heatRef = useRef<HTMLCanvasElement>(null);
  const corrRef = useRef<HTMLCanvasElement>(null);
  const boxRef = useRef<HTMLCanvasElement>(null);

  useEffect(() => {
    const charts = [
      makeDendrogram(dendroRef.current!),
      makeHeatmap(heatRef.current!),
      makeCorrelation(corrRef.current!),
      makeBoxes(boxRef.current!),
    ];
    return () => charts.forEach((c) => c.destroy());
  }, []);

  const abs: React.CSSProperties = { position: 'absolute', display: 'block' };
  return (
    <div style={{ position: 'fixed', left: 0, top: 0, width: 709, height: 499, background: '#fff', overflow: 'hidden' }}>
      <canvas ref={dendroRef} width={41} height={239} style={{ ...abs, left: 3, top: 4, width: 41, height: 239 }} />
      <canvas ref={heatRef} width={246} height={239} style={{ ...abs, left: 44, top: 4, width: 246, height: 239 }} />
      <canvas ref={corrRef} width={409} height={252} style={{ ...abs, left: 300, top: 0, width: 409, height: 252 }} />
      <canvas ref={boxRef} width={709} height={249} style={{ ...abs, left: 0, top: 250, width: 709, height: 249 }} />
      <div style={panelLabel(2, 1)}>A</div>
      <div style={panelLabel(331, 3)}>B</div>
      <div style={panelLabel(2, 266)}>C</div>
    </div>
  );
}
